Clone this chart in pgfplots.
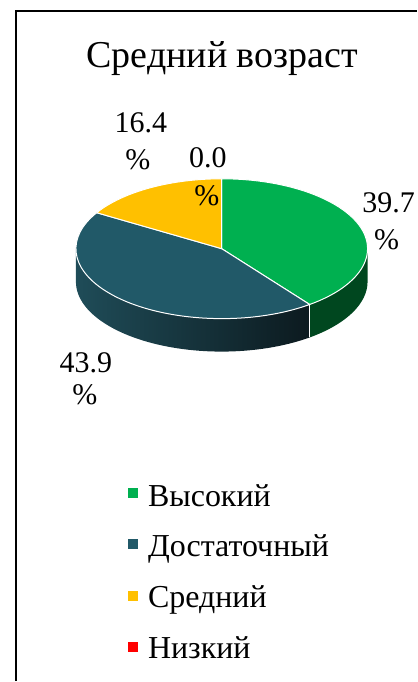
\documentclass[border=0pt]{standalone}
\usepackage{pgfplots}
\pgfplotsset{compat=1.18}
\usepackage{pgfplotstable}
\usepackage{fontspec}
\setmainfont{Liberation Serif}

\definecolor{cgreen}{HTML}{00B050}
\definecolor{cgreenside}{HTML}{00471F}
\definecolor{cteal}{HTML}{215968}
\definecolor{ctealsideL}{HTML}{1F4C58}
\definecolor{ctealsideR}{HTML}{0C1A1F}
\definecolor{cyellow}{HTML}{FFC000}
\definecolor{cred}{HTML}{FF0000}

% shares in percent: Высокий, Достаточный, Средний, Низкий
\pgfplotstableread{
level share
1 39.7
2 43.9
3 16.4
4 0.0
}\piedata

\begin{document}
\begin{tikzpicture}
\pgfplotstablegetelem{0}{share}\of\piedata \let\vA\pgfplotsretval
\pgfplotstablegetelem{1}{share}\of\piedata \let\vB\pgfplotsretval
\pgfplotstablegetelem{2}{share}\of\piedata \let\vC\pgfplotsretval
\pgfplotstablegetelem{3}{share}\of\piedata \let\vD\pgfplotsretval
% cumulative angles, clockwise from 12 o'clock
\pgfmathsetmacro\aA{90-3.6*\vA}
\pgfmathsetmacro\aB{\aA-3.6*\vB}
\pgfmathsetmacro\aC{\aB-3.6*\vC}
\pgfmathsetmacro\aD{\aC-3.6*\vD}
% ellipse: centre (222,433), radii 146 x 70, depth 33
\pgfmathsetmacro\pAx{222+146*cos(\aA)}
\pgfmathsetmacro\pAy{433+70*sin(\aA)}
\pgfmathsetmacro\pBx{222+146*cos(\aB)}
\pgfmathsetmacro\pBy{433+70*sin(\aB)}
\pgfmathsetmacro\pCx{222+146*cos(\aC)}
\pgfmathsetmacro\pCy{433+70*sin(\aC)}
\begin{axis}[
    x=1pt, y=1pt,
    xmin=0, xmax=417, ymin=0, ymax=682,
    scale only axis,
    hide axis,
    clip=false,
]
\path (axis cs:0,0) rectangle (axis cs:417,682);

% frame (only left and top edges visible)
\draw[black, line width=1.6pt] (axis cs:16,0) -- (axis cs:16,671) -- (axis cs:417,671);

% title
\node[anchor=base, inner sep=0pt, font=\fontsize{38}{44}\selectfont] at (axis cs:222.5,614) {Средний возраст};

% side walls
\fill[cgreenside] (axis cs:368,433)
    arc[start angle=0, end angle=\aA, x radius=146pt, y radius=70pt]
    -- ++(0pt,-33pt)
    arc[start angle=\aA, end angle=0, x radius=146pt, y radius=70pt] -- cycle;
\shade[left color=ctealsideL, right color=ctealsideR] (axis cs:\pAx,\pAy)
    arc[start angle=\aA, end angle=-180, x radius=146pt, y radius=70pt]
    -- ++(0pt,-33pt)
    arc[start angle=-180, end angle=\aA, x radius=146pt, y radius=70pt] -- cycle;
\draw[white, line width=1pt] (axis cs:\pAx,\pAy) -- ++(0pt,-33pt);

% top slices
\filldraw[fill=cgreen, draw=white, line width=1pt, line join=round]
    (axis cs:222,433) -- (axis cs:222,503)
    arc[start angle=90, end angle=\aA, x radius=146pt, y radius=70pt] -- cycle;
\filldraw[fill=cteal, draw=white, line width=1pt, line join=round]
    (axis cs:222,433) -- (axis cs:\pAx,\pAy)
    arc[start angle=\aA, end angle=\aB, x radius=146pt, y radius=70pt] -- cycle;
\filldraw[fill=cyellow, draw=white, line width=1pt, line join=round]
    (axis cs:222,433) -- (axis cs:\pBx,\pBy)
    arc[start angle=\aB, end angle=\aC, x radius=146pt, y radius=70pt] -- cycle;
\filldraw[fill=cred, draw=white, line width=1pt, line join=round]
    (axis cs:222,433) -- (axis cs:\pCx,\pCy)
    arc[start angle=\aC, end angle=\aD, x radius=146pt, y radius=70pt] -- cycle;

% data labels
\begin{scope}[every node/.style={anchor=base, font=\fontsize{30}{36}\selectfont, inner sep=0pt}]
\node at (axis cs:141,549) {16.4};
\node at (axis cs:138,512) {\%};
\node at (axis cs:208,514) {0.0};
\node at (axis cs:207,476) {\%};
\node at (axis cs:389,469) {39.7};
\node at (axis cs:387,432) {\%};
\node at (axis cs:86,309) {43.9};
\node at (axis cs:85,277) {\%};
\end{scope}

% legend
\begin{scope}[every node/.style={anchor=base west, font=\fontsize{32}{38}\selectfont, inner sep=0pt}]
\fill[cgreen] (axis cs:128,183) rectangle (axis cs:138,193);
\node at (axis cs:148,175) {Высокий};
\fill[cteal] (axis cs:128,132) rectangle (axis cs:138,142);
\node at (axis cs:148,125) {Достаточный};
\fill[cyellow] (axis cs:128,80) rectangle (axis cs:138,90);
\node at (axis cs:148,74) {Средний};
\fill[cred] (axis cs:128,29) rectangle (axis cs:138,39);
\node at (axis cs:148,23) {Низкий};
\end{scope}
\end{axis}
\end{tikzpicture}
\end{document}
